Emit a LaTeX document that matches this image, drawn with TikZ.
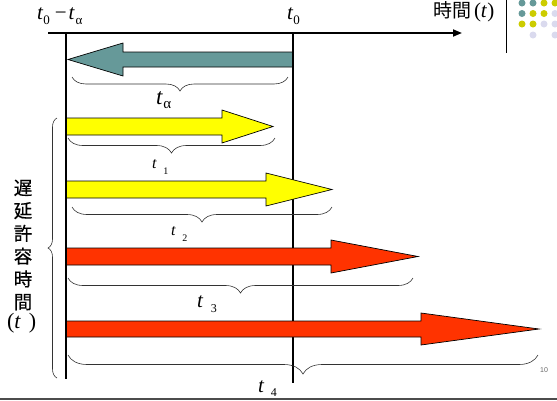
\documentclass[tikz,border=0pt]{standalone}
\usepackage{fontspec}
\setmainfont{Liberation Serif}
\newfontfamily\cjk{Noto Sans CJK JP}
\newfontfamily\cjkb[FakeBold=0.6]{Noto Sans CJK JP}
\newfontfamily\sflab{Liberation Sans}
\usetikzlibrary{arrows.meta,decorations.pathreplacing}
\definecolor{tealA}{RGB}{102,153,153}
\definecolor{oliveA}{RGB}{204,204,0}
\definecolor{lavA}{RGB}{218,218,238}
\definecolor{yelA}{RGB}{255,255,0}
\definecolor{redA}{RGB}{255,51,0}
% #1 t size, #2 sub size, #3 drop, #4 gap, #5 subscript
\newcommand\Tsub[5]{{\fontsize{#1}{#1}\selectfont\itshape t}\hspace{#4}\raisebox{#3}{\fontsize{#2}{#2}\selectfont\upshape #5}}
\tikzset{
  shaft/.style={draw=black, line width=0.7pt, line join=miter},
  vline/.style={draw=black, line width=2.4pt},
  bracebase/.style={draw=black!80, line width=0.6pt, decorate},
  lbl/.style={anchor=base west, inner sep=0pt, outer sep=0pt},
  dot/.style={circle, minimum size=7pt, inner sep=0pt, draw=none},
}
\begin{document}
\begin{tikzpicture}[x=1pt,y=-1pt]
\useasboundingbox (0,0) rectangle (557,400);
% axis
\coordinate (axL) at (48,33);
\coordinate (axR) at (462,33);
\draw[line width=1.8pt, -{Triangle[length=9pt,width=7pt]}] (axL) -- (axR);
% teal arrow (pointing left)
\draw[shaft, fill=tealA] (293,52) -- (123,52) -- (123,43) -- (68,59.5) -- (123,76) -- (123,67) -- (293,67) -- cycle;
% right vertical line
\coordinate (rT) at (293,33);
\coordinate (rB) at (293,383);
\draw[vline] (rT) -- (rB);
% yellow / red arrows
\draw[shaft, fill=yelA] (66,118) -- (222,118) -- (222,110) -- (273,126.5) -- (222,143) -- (222,135) -- (66,135) -- cycle;
\draw[shaft, fill=yelA] (66,181) -- (266,181) -- (266,173) -- (332,189.5) -- (266,206) -- (266,198) -- (66,198) -- cycle;
\draw[shaft, fill=redA] (66,248) -- (331,248) -- (331,240) -- (418,256.5) -- (331,273) -- (331,265) -- (66,265) -- cycle;
\draw[shaft, fill=redA] (66,321) -- (421,321) -- (421,313) -- (539,329) -- (421,345) -- (421,337) -- (66,337) -- cycle;
% left vertical line
\coordinate (lT) at (66,33);
\coordinate (lB) at (66,379);
\draw[vline] (lT) -- (lB);
% braces
\coordinate (b0a) at (72,77);  \coordinate (b0b) at (288,77);
\coordinate (b1a) at (68,138); \coordinate (b1b) at (275,138);
\coordinate (b2a) at (72,207); \coordinate (b2b) at (332,207);
\coordinate (b3a) at (68,278); \coordinate (b3b) at (413,278);
\coordinate (b4a) at (68,355); \coordinate (b4b) at (538,355);
\draw[bracebase, decoration={brace, mirror, amplitude=14pt}] (b0a) -- (b0b);
\draw[bracebase, decoration={brace, mirror, amplitude=15pt}] (b1a) -- (b1b);
\draw[bracebase, decoration={brace, mirror, amplitude=15pt}] (b2a) -- (b2b);
\draw[bracebase, decoration={brace, mirror, amplitude=15pt}] (b3a) -- (b3b);
\draw[bracebase, decoration={brace, mirror, amplitude=19pt}] (b4a) -- (b4b);
\coordinate (lbA) at (57,378); \coordinate (lbB) at (57,118);
\draw[bracebase, decoration={brace, amplitude=9pt}] (lbA) -- (lbB);
% labels
\node[lbl] (topL) at (37,19) {\Tsub{21}{13}{-5pt}{0.5pt}{0}\hspace{5pt}{\fontsize{21}{21}\selectfont −}\hspace{2pt}\Tsub{21}{13}{-5pt}{1pt}{α}};
\node[lbl] (topR) at (287,19) {\Tsub{21}{13}{-5pt}{0.5pt}{0}};
\node[lbl] (timeL) at (433,17) {{\cjk\fontsize{19}{19}\selectfont 時間}\hspace{3pt}{\fontsize{21}{21}\selectfont(\textit{t})}};
\node[lbl] (ta) at (156,104) {\Tsub{23}{15}{-4pt}{1pt}{α}};
\node[lbl] (t1) at (152,168) {\Tsub{16}{10}{-6pt}{7pt}{1}};
\node[lbl] (t2) at (171,235) {\Tsub{16}{10}{-6pt}{7pt}{2}};
\node[lbl] (t3) at (197,307) {\Tsub{21}{12}{-5pt}{8pt}{3}};
\node[lbl] (t4) at (258,392) {\Tsub{21}{12}{-4pt}{7pt}{4}};
\node[inner sep=0pt, align=center, font=\cjkb\fontsize{18.5}{22.8}\selectfont] (vtext) at (23,245) {遅\\延\\許\\容\\時\\間};
\node[lbl] (vt) at (7,328) {\fontsize{22}{22}\selectfont(\textit{t}\hspace{8pt})};
\node[inner sep=0pt, font=\sflab\fontsize{7}{7}\selectfont, text=black!60] (pg) at (544,370) {10};
% decorations
\coordinate (dvT) at (506,0); \coordinate (dvB) at (506,53);
\draw[line width=1pt] (dvT) -- (dvB);
\coordinate (btL) at (0,399); \coordinate (btR) at (557,399);
\draw[line width=1.5pt, black!70] (btL) -- (btR);
\node[dot, fill=tealA] (d11) at (522,3) {};
\node[dot, fill=tealA] (d12) at (533,3) {};
\node[dot, fill=oliveA] (d13) at (544,3) {};
\node[dot, fill=oliveA] (d14) at (555,3) {};
\node[dot, fill=tealA] (d21) at (522,13.5) {};
\node[dot, fill=oliveA] (d22) at (533,13.5) {};
\node[dot, fill=oliveA] (d23) at (544,13.5) {};
\node[dot, fill=lavA] (d24) at (555,13.5) {};
\node[dot, fill=oliveA] (d31) at (522,24) {};
\node[dot, fill=oliveA] (d32) at (533,24) {};
\node[dot, fill=lavA] (d33) at (544,24) {};
\node[dot, fill=lavA] (d34) at (555,24) {};
\node[dot, fill=lavA] (d42) at (533,35) {};
\node[dot, fill=lavA] (d44) at (555,35) {};
\end{tikzpicture}
\end{document}
